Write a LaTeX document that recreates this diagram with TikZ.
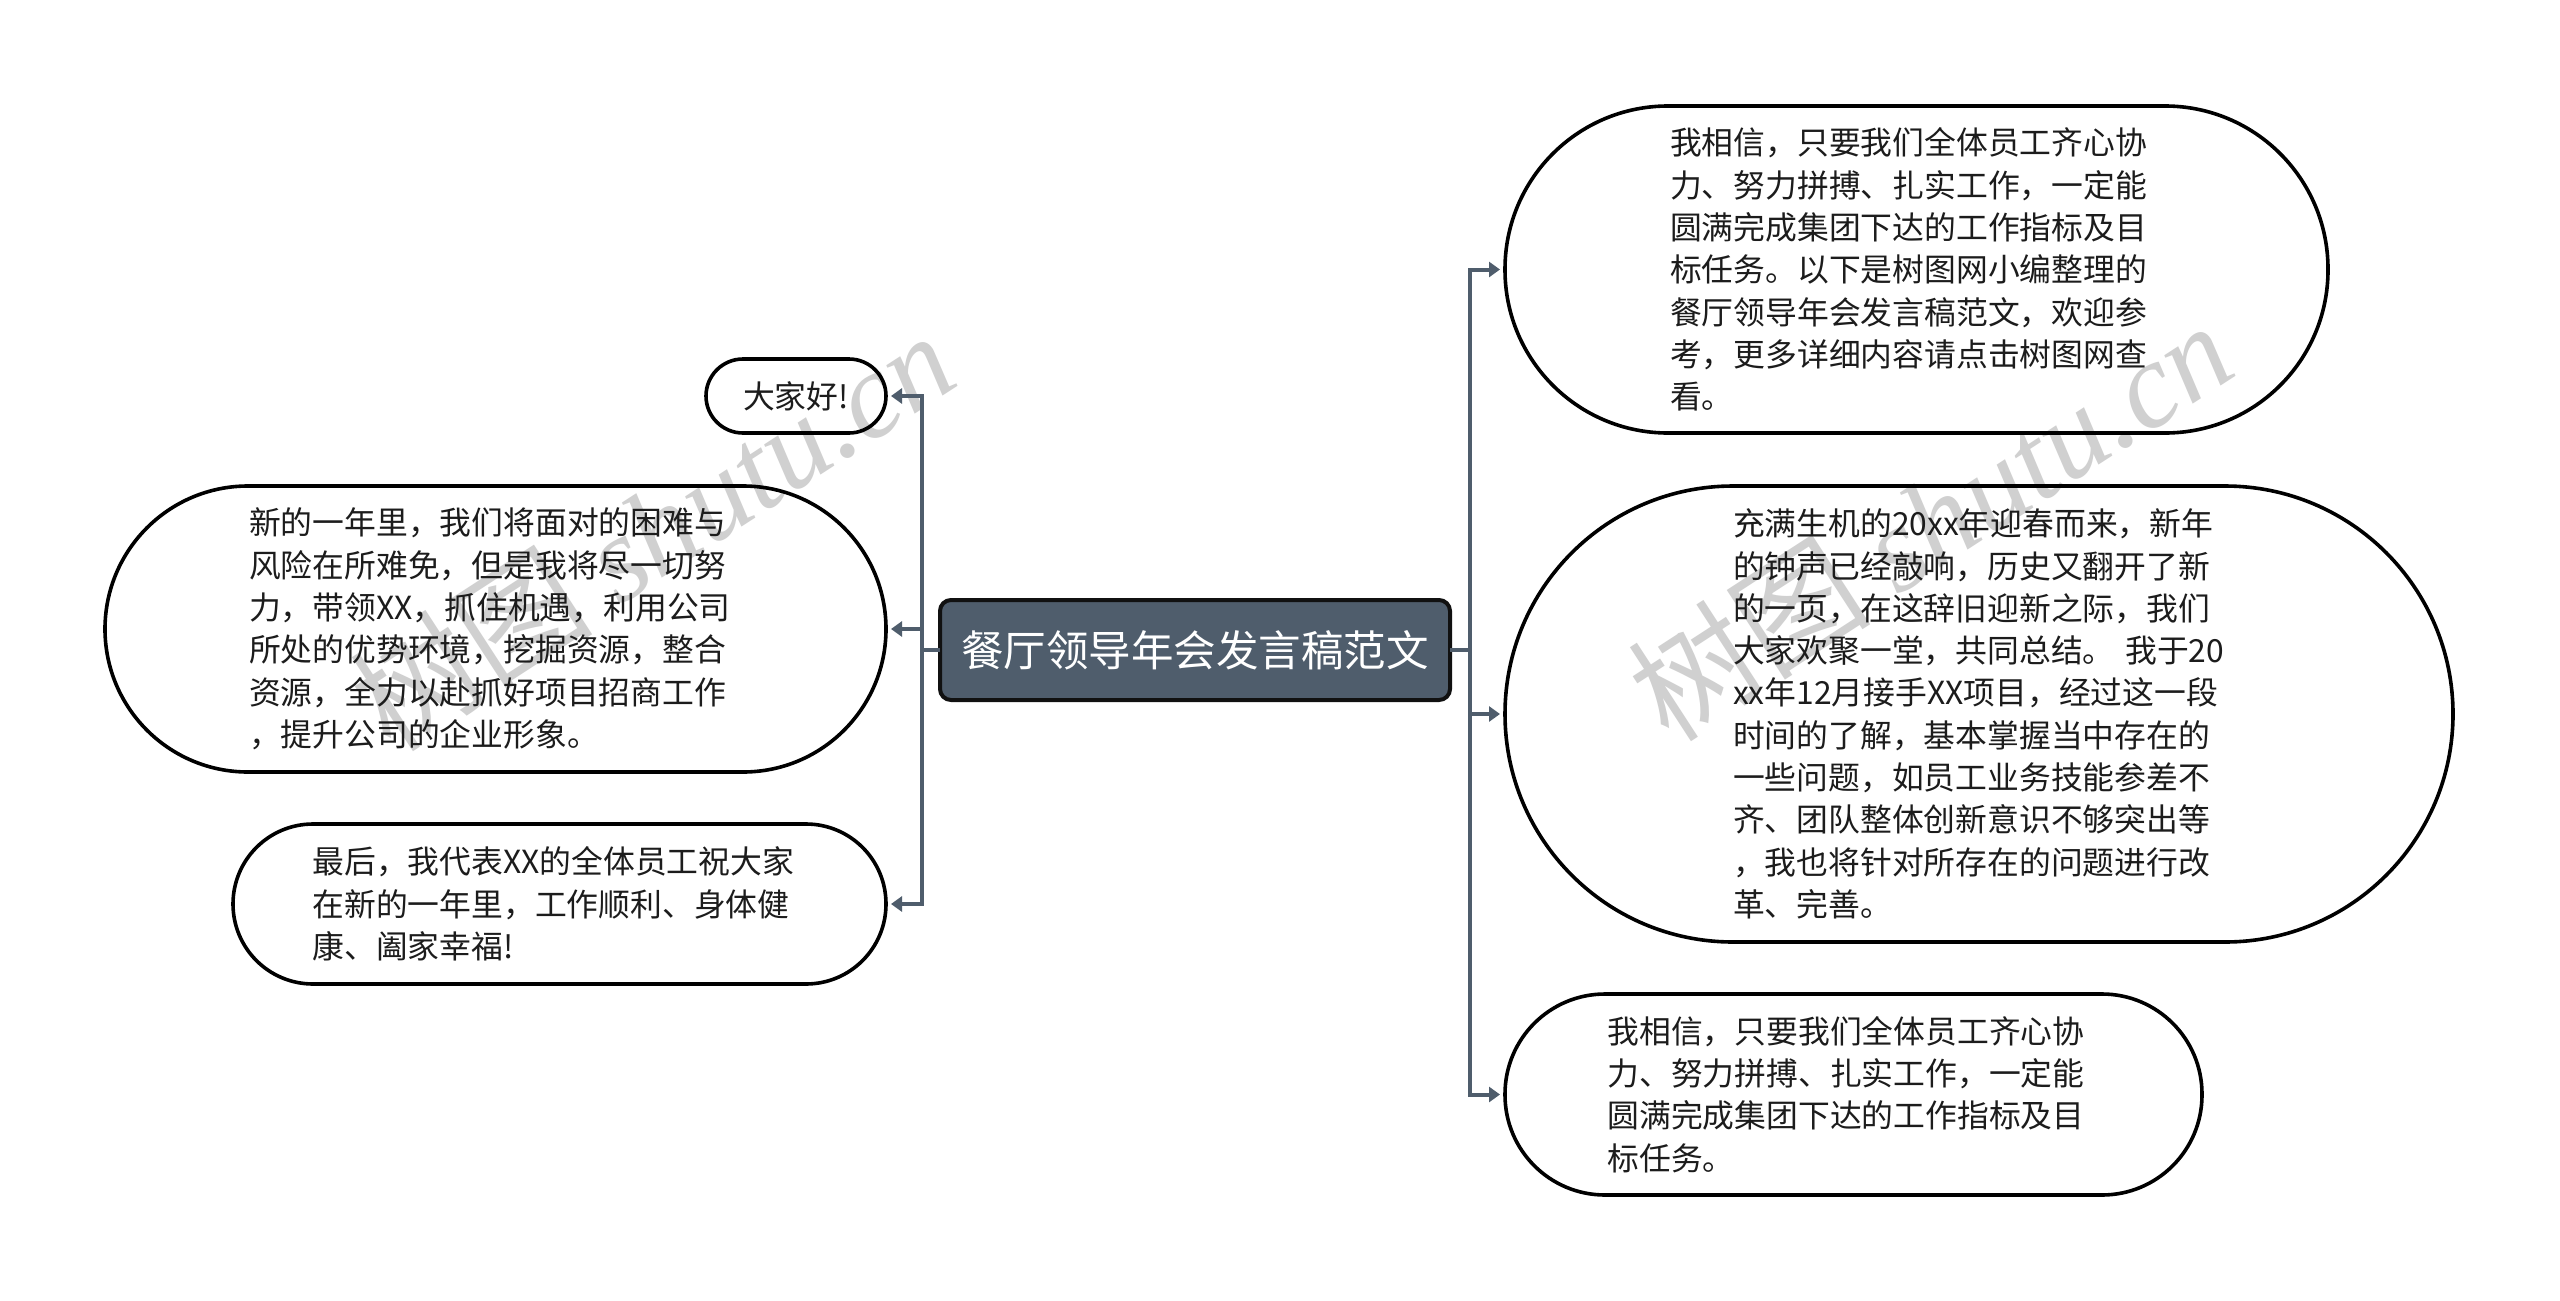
\documentclass[tikz,border=0pt]{standalone}
\usepackage{fontspec}
\setmainfont{Noto Sans CJK SC}
\newfontfamily\wmlatin{Liberation Serif}
\usetikzlibrary{arrows.meta}
\definecolor{slate}{HTML}{4F5D6C}
\definecolor{wm}{HTML}{D0D0D0}
\definecolor{txt}{HTML}{1C1C1C}
\definecolor{rootedge}{HTML}{111111}
\tikzset{
  pill/.style n args={3}{draw=black,line width=3.6pt,rounded corners=#3,minimum width=#1,minimum height=#2,inner sep=0pt,outer sep=0pt,anchor=center,align=left,text=txt,font=\fontsize{31.8}{42.3}\selectfont},
  rootbox/.style={draw=rootedge,fill=slate,line width=4pt,rounded corners=11pt,minimum width=510pt,minimum height=100pt,inner sep=0pt,outer sep=0pt,text=white,font=\fontsize{42.5}{50}\selectfont},
  conn/.style={draw=slate,line width=4pt},
  arrowconn/.style={conn,-{Triangle[length=11pt,width=15pt]},shorten >=5pt},
  mark text/.style={text=wm,rotate=33,font=\fontsize{122}{124}\selectfont}
}
\begin{document}
\begin{tikzpicture}[x=1pt,y=-1pt]
\useasboundingbox (0,0) rectangle (2560,1301);
\fill[white] (0,0) rectangle (2560,1301);
\node[mark text] (wm1) at (652,530) {树图 {\wmlatin\itshape shutu.cn}};
\node[mark text] (wm2) at (1930,520) {树图 {\wmlatin\itshape shutu.cn}};
\node[rootbox] (root) at (1195,650) {餐厅领导年会发言稿范文};
\node[pill={180pt}{74pt}{37pt}] (l1) at (796,396) {大家好!};
\node[pill={781pt}{286pt}{143pt},text width=493pt] (l2) at (495.5,629) {新的一年里，我们将面对的困难与\\风险在所难免，但是我将尽一切努\\力，带领XX，抓住机遇，利用公司\\所处的优势环境，挖掘资源，整合\\资源，全力以赴抓好项目招商工作\\，提升公司的企业形象。};
\node[pill={653pt}{160pt}{80pt},text width=494pt] (l3) at (559.5,904) {最后，我代表XX的全体员工祝大家\\在新的一年里，工作顺利、身体健\\康、阖家幸福!};
\node[pill={823pt}{327pt}{163pt},text width=493pt] (r1) at (1916.5,269.5) {我相信，只要我们全体员工齐心协\\力、努力拼搏、扎实工作，一定能\\圆满完成集团下达的工作指标及目\\标任务。以下是树图网小编整理的\\餐厅领导年会发言稿范文，欢迎参\\考，更多详细内容请点击树图网查\\看。};
\node[pill={948pt}{456pt}{228pt},text width=492pt] (r2) at (1979,714) {充满生机的20xx年迎春而来，新年\\的钟声已经敲响，历史又翻开了新\\的一页，在这辞旧迎新之际，我们\\大家欢聚一堂，共同总结。 我于20\\xx年12月接手XX项目，经过这一段\\时间的了解，基本掌握当中存在的\\一些问题，如员工业务技能参差不\\齐、团队整体创新意识不够突出等\\，我也将针对所存在的问题进行改\\革、完善。};
\node[pill={697pt}{201pt}{100pt},text width=492pt] (r3) at (1853.5,1094.5) {我相信，只要我们全体员工齐心协\\力、努力拼搏、扎实工作，一定能\\圆满完成集团下达的工作指标及目\\标任务。};
\coordinate (trunkL) at (921.5,650);
\coordinate (trunkR) at (1470,650);
\draw[conn] (root.west) -- (trunkL);
\draw[conn] (root.east) -- (trunkR);
\draw[arrowconn] (trunkL) |- (l1.east);
\draw[arrowconn] (trunkL) |- (l2.east);
\draw[arrowconn] (trunkL) |- (l3.east);
\draw[arrowconn] (trunkR) |- (r1.west);
\draw[arrowconn] (trunkR) |- (r2.west);
\draw[arrowconn] (trunkR) |- (r3.west);
\end{tikzpicture}
\end{document}
